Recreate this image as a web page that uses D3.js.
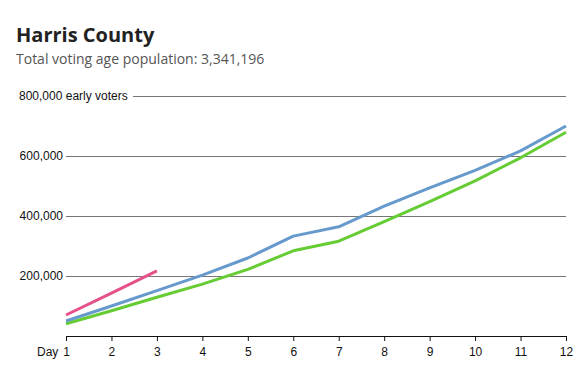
<!DOCTYPE html>
<html>
<head>
  <meta charset="utf-8">
  <script src="https://d3js.org/d3.v7.min.js"></script>
  <style>
    body { margin: 0; background: #fff; }
    .title { font-family: "Open Sans", sans-serif; font-weight: 700; font-size: 20px; fill: #222; }
    .subtitle { font-family: "Open Sans", sans-serif; font-size: 14px; fill: #555; }
    .axis text { font-family: "Liberation Sans", Arial, sans-serif; font-size: 12px; fill: #111; }
    .grid line { stroke: #777; stroke-width: 1; }
    .line { fill: none; stroke-width: 3; stroke-linejoin: round; }
  </style>
</head>
<body>
<script>
  // Harris County early voting, cumulative by day
  var days = [1, 2, 3, 4, 5, 6, 7, 8, 9, 10, 11, 12];
  var blueVals = [50000, 100000, 151000, 203000, 260000, 333000, 364000, 433000, 494000, 552000, 617000, 700000];
  var greenVals = [41000, 84000, 129000, 173000, 222000, 284000, 316000, 381000, 448000, 517000, 594000, 679000];
  var pinkVals = [70000, 143000, 217000];
  var yTicks = [200000, 400000, 600000, 800000];
  var colors = { blue: '#6699cc', green: '#66cc33', pink: '#e4508a' };

  var width = 587, height = 378;
  var svg = d3.select('body').append('svg')
    .attr('width', width).attr('height', height);

  svg.append('text').attr('class', 'title')
    .attr('x', 16).attr('y', 42).text('Harris County');
  svg.append('text').attr('class', 'subtitle')
    .attr('x', 16).attr('y', 64).text('Total voting age population: 3,341,196');

  var x = d3.scaleLinear().domain([1, 12]).range([66, 566]);
  var y = d3.scaleLinear().domain([0, 800000]).range([336, 96]);
  var fmt = d3.format(',');

  // gridlines + y labels
  var g = svg.append('g').attr('class', 'grid axis');
  yTicks.forEach(function(t) {
    var top = t === 800000;
    g.append('line')
      .attr('x1', top ? 133 : 66).attr('x2', 566)
      .attr('y1', y(t) + 0.5).attr('y2', y(t) + 0.5);
    g.append('text')
      .attr('x', top ? 19 : 63).attr('y', y(t))
      .attr('dy', '0.35em')
      .style('text-anchor', top ? 'start' : 'end')
      .text(top ? fmt(t) + ' early voters' : fmt(t));
  });

  // x axis
  var xAxis = d3.axisBottom(x).tickValues(days).tickSize(5).tickPadding(6)
    .tickFormat(function(d) { return d; });
  var xg = svg.append('g').attr('class', 'axis')
    .attr('transform', 'translate(0,336)')
    .call(xAxis);
  xg.select('.domain').attr('stroke', '#111').attr('d', 'M66.5,0.5H566.5');
  xg.selectAll('.tick line').attr('stroke', '#111');
  xg.selectAll('.tick text').attr('fill', '#111');
  xg.append('text')
    .attr('x', 37).attr('y', 11).attr('dy', '0.71em')
    .style('text-anchor', 'start').attr('fill', '#111')
    .text('Day');

  var line = d3.line()
    .x(function(d, i) { return x(days[i]); })
    .y(function(d) { return y(d); });

  svg.append('path').attr('class', 'line')
    .attr('stroke', colors.green).attr('d', line(greenVals));
  svg.append('path').attr('class', 'line')
    .attr('stroke', colors.blue).attr('d', line(blueVals));
  svg.append('path').attr('class', 'line')
    .attr('stroke', colors.pink).attr('d', line(pinkVals));
</script>
</body>
</html>
